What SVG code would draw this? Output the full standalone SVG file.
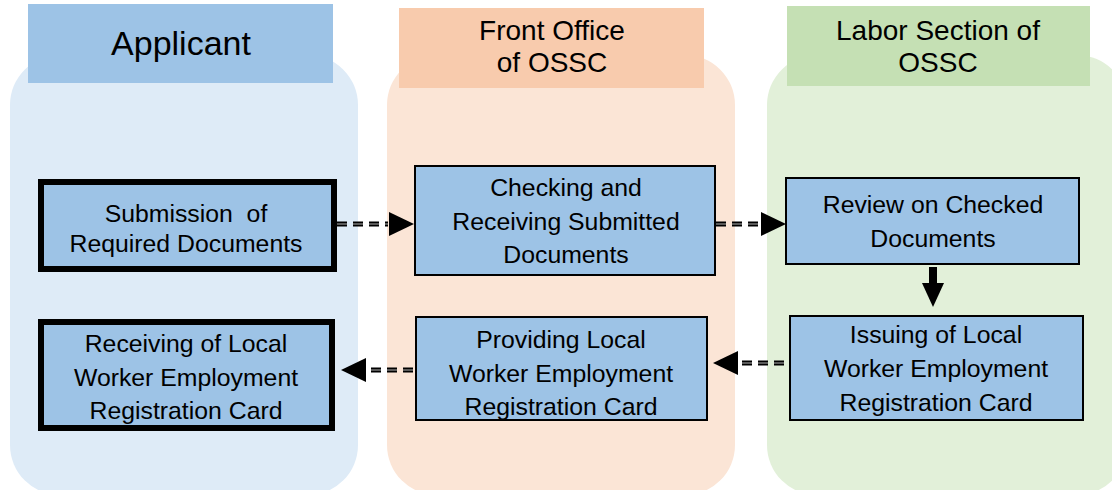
<svg xmlns="http://www.w3.org/2000/svg" width="1112" height="490" viewBox="0 0 1112 490">
<style>
.t{font-family:"Liberation Sans",Arial,sans-serif;fill:#000;text-anchor:middle}
.n{font-size:24.8px}
.h{font-size:28px}
.node{fill:#9DC3E6;stroke:#000;stroke-width:2}
.thick{fill:#9DC3E6;stroke:#000;stroke-width:6}
.dash{fill:none;stroke:#000;stroke-width:5;stroke-dasharray:10 6}
.dashw{fill:none;stroke:#fff;stroke-width:1;stroke-dasharray:10 6;stroke-opacity:0.7}
.head{fill:#000}
</style>
<rect width="1112" height="490" fill="#fff"/>
<g id="lane-applicant">
<rect x="10" y="55" width="348" height="440" rx="50" fill="#DEEBF7"/>
<rect x="28" y="4" width="305" height="79" fill="#9DC3E6"/>
<text class="t" x="181" y="55" font-size="34">Applicant</text>
</g>
<g id="lane-front">
<rect x="387" y="55" width="348" height="440" rx="50" fill="#FBE5D6"/>
<rect x="399" y="8" width="305" height="80" fill="#F8CBAD"/>
<text class="t h" x="552" y="40">Front Office</text>
<text class="t h" x="552" y="72">of OSSC</text>
</g>
<g id="lane-labor">
<rect x="767" y="55" width="360" height="440" rx="50" fill="#E2F0D9"/>
<rect x="787" y="6" width="303" height="80" fill="#C5E0B4"/>
<text class="t h" x="938" y="40">Labor Section of</text>
<text class="t h" x="938" y="72">OSSC</text>
</g>
<g id="node-submission">
<rect class="thick" x="41" y="182" width="293" height="87"/>
<text class="t n" x="186" y="222">Submission&#160; of</text>
<text class="t n" x="186" y="252">Required Documents</text>
</g>
<g id="node-checking">
<rect class="node" x="415" y="166" width="300" height="109"/>
<text class="t n" x="566" y="196">Checking and</text>
<text class="t n" x="566" y="230">Receiving Submitted</text>
<text class="t n" x="566" y="263">Documents</text>
</g>
<g id="node-review">
<rect class="node" x="786" y="178" width="293" height="86"/>
<text class="t n" x="933" y="213">Review on Checked</text>
<text class="t n" x="933" y="247">Documents</text>
</g>
<g id="node-issuing">
<rect class="node" x="790" y="316" width="293" height="104"/>
<text class="t n" x="936" y="343">Issuing of Local</text>
<text class="t n" x="936" y="377">Worker Employment</text>
<text class="t n" x="936" y="411">Registration Card</text>
</g>
<g id="node-providing">
<rect class="node" x="416" y="317" width="291" height="103"/>
<text class="t n" x="561" y="348">Providing Local</text>
<text class="t n" x="561" y="382">Worker Employment</text>
<text class="t n" x="561" y="415">Registration Card</text>
</g>
<g id="node-receiving">
<rect class="thick" x="41" y="322" width="291" height="106"/>
<text class="t n" x="186" y="352">Receiving of Local</text>
<text class="t n" x="186" y="386">Worker Employment</text>
<text class="t n" x="186" y="419">Registration Card</text>
</g>
<g id="connectors">
<path class="dash" d="M337 224 H388"/>
<path class="dashw" d="M337 224 H388"/>
<polygon class="head" points="389,212 414,224 389,236"/>
<path class="dash" d="M716 224 H760"/>
<path class="dashw" d="M716 224 H760"/>
<polygon class="head" points="761,212 786,224 761,236"/>
<rect class="head" x="929" y="267" width="8" height="17"/>
<polygon class="head" points="922,283 944,283 933,307"/>
<path class="dash" d="M784 363 H740"/>
<path class="dashw" d="M784 363 H740"/>
<polygon class="head" points="738,351 713,363 738,375"/>
<path class="dash" d="M413 370 H368"/>
<path class="dashw" d="M413 370 H368"/>
<polygon class="head" points="366,358 341,370 366,382"/>
</g>
</svg>
